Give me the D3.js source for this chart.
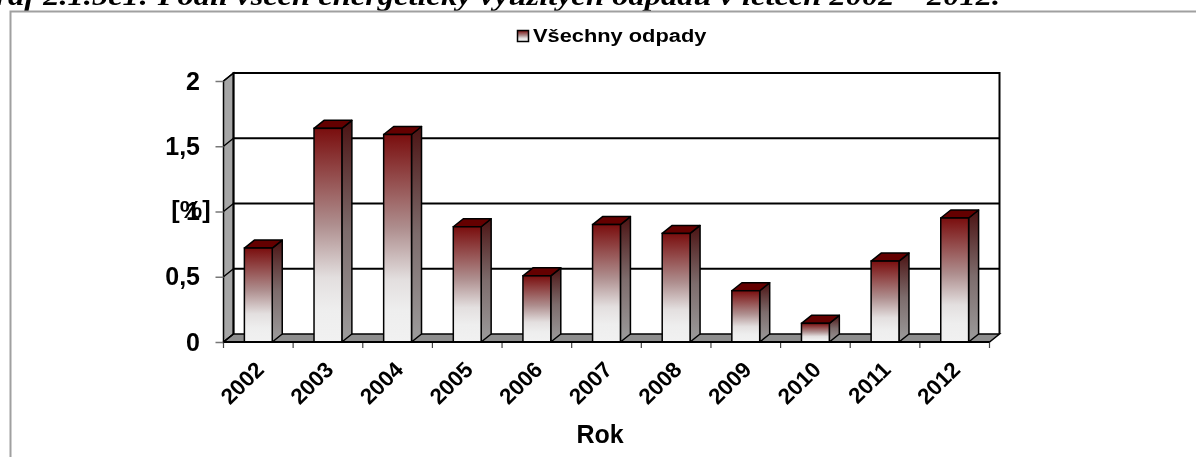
<!DOCTYPE html>
<html>
<head>
<meta charset="utf-8">
<script src="https://cdn.jsdelivr.net/npm/d3@7"></script>
<style>
html, body { margin: 0; padding: 0; background: #fff; overflow: hidden; }
text { font-family: "Liberation Sans", Arial, sans-serif; font-weight: bold; fill: #000; }
</style>
</head>
<body>
<div id="chart"></div>
<script>
var years = ['2002','2003','2004','2005','2006','2007','2008','2009','2010','2011','2012']
var values = [0.72, 1.637, 1.59, 0.883, 0.507, 0.90, 0.832, 0.393, 0.143, 0.62, 0.95]
var yTicks = [0, 0.5, 1, 1.5, 2]
var seriesName = 'Všechny odpady'
var captionText = 'Graf 2.1.5e1: Podíl všech energeticky využitých odpadů v letech 2002 – 2012.'
var xTitle = 'Rok'
var yTitle = '[%]'

var width = 1196, height = 457
var plotLeft = 223.5, plotRight = 989.5, plotTop = 81, plotBottom = 342
// 3d depth of the plot box
var depthX = 10, depthY = 8

// the reference is a resampled bitmap, a light blur gives the same soft edges
var svg = d3.select('#chart').append('svg')
  .attr('width', width)
  .attr('height', height)
  .style('display', 'block')
  .style('filter', 'blur(0.35px)')

var xScale = d3.scaleBand().domain(years).range([plotLeft, plotRight]).paddingInner(0.6).paddingOuter(0.3)
var yScale = d3.scaleLinear().domain([0, 2]).range([plotBottom, plotTop])
var edgeScale = d3.scaleLinear().domain([0, years.length]).range([plotLeft, plotRight])

var defs = svg.append('defs')

var frontGrad = defs.append('linearGradient').attr('id', 'frontGrad').attr('x1', 0).attr('y1', 0).attr('x2', 0).attr('y2', 1)
frontGrad.append('stop').attr('offset', '0%').attr('stop-color', '#7a0e0e')
frontGrad.append('stop').attr('offset', '45%').attr('stop-color', '#ae8e8e')
frontGrad.append('stop').attr('offset', '70%').attr('stop-color', '#e3dfdf')
frontGrad.append('stop').attr('offset', '85%').attr('stop-color', '#eeeeee')
frontGrad.append('stop').attr('offset', '100%').attr('stop-color', '#f1f1f1')

var sideGrad = defs.append('linearGradient').attr('id', 'sideGrad').attr('x1', 0).attr('y1', 0).attr('x2', 0).attr('y2', 1)
sideGrad.append('stop').attr('offset', '0%').attr('stop-color', '#4b1212')
sideGrad.append('stop').attr('offset', '50%').attr('stop-color', '#7d6c6c')
sideGrad.append('stop').attr('offset', '100%').attr('stop-color', '#9c9c9c')

// caption from the page, cut by the top of the picture
svg.append('text')
  .attr('transform', 'translate(1000,5) scale(1.16,1)')
  .attr('text-anchor', 'end')
  .style('font-family', '"Liberation Serif", serif')
  .style('font-style', 'italic')
  .style('font-size', '28px')
  .text(captionText)

// chart frame
svg.append('path')
  .attr('d', 'M10.5,457V11.5H1196')
  .attr('fill', 'none')
  .attr('stroke', '#a0a0a0')
  .attr('stroke-width', 2)

// walls
svg.append('path')
  .attr('d', d3.line()([[plotLeft, plotBottom], [plotLeft, plotTop], [plotLeft + depthX, plotTop - depthY], [plotLeft + depthX, plotBottom - depthY]]) + 'Z')
  .attr('fill', '#a6a6a6')
  .attr('stroke', '#000')
  .attr('stroke-width', 1.5)

svg.append('path')
  .attr('d', d3.line()([[plotLeft, plotBottom], [plotLeft + depthX, plotBottom - depthY], [plotRight + depthX, plotBottom - depthY], [plotRight, plotBottom]]) + 'Z')
  .attr('fill', '#8e8e8e')
  .attr('stroke', '#000')
  .attr('stroke-width', 1.5)

svg.append('path')
  .attr('d', d3.line()([[plotLeft + depthX, plotBottom - depthY], [plotLeft + depthX, plotTop - depthY], [plotRight + depthX, plotTop - depthY], [plotRight + depthX, plotBottom - depthY]]))
  .attr('fill', 'none')
  .attr('stroke', '#000')
  .attr('stroke-width', 2)

// grid lines on the back and across the side wall
svg.append('g').selectAll('.grid').data(yTicks.slice(1, -1)).enter().append('line')
  .attr('x1', plotLeft + depthX).attr('x2', plotRight + depthX)
  .attr('y1', function (d) { return yScale(d) - depthY })
  .attr('y2', function (d) { return yScale(d) - depthY })
  .attr('stroke', '#000').attr('stroke-width', 2)
svg.append('g').selectAll('.diag').data(yTicks).enter().append('line')
  .attr('x1', plotLeft).attr('x2', plotLeft + depthX)
  .attr('y1', function (d) { return yScale(d) })
  .attr('y2', function (d) { return yScale(d) - depthY })
  .attr('stroke', '#000').attr('stroke-width', 1.5)

// bars
var bar = svg.append('g').selectAll('.bar')
  .data(years.map(function (y, i) { return { year: y, value: values[i] } }))
  .enter().append('g').attr('class', 'bar')

bar.append('path')
  .attr('d', function (d) {
    var x1 = xScale(d.year) + xScale.bandwidth(), y = yScale(d.value)
    return d3.line()([[x1, y], [x1 + depthX, y - depthY], [x1 + depthX, plotBottom - depthY], [x1, plotBottom]]) + 'Z'
  })
  .attr('fill', 'url(#sideGrad)')
  .attr('stroke', '#000').attr('stroke-width', 1.5).attr('stroke-linejoin', 'round')

bar.append('path')
  .attr('d', function (d) {
    var x0 = xScale(d.year), x1 = x0 + xScale.bandwidth(), y = yScale(d.value)
    return d3.line()([[x0, y], [x0 + depthX, y - depthY], [x1 + depthX, y - depthY], [x1, y]]) + 'Z'
  })
  .attr('fill', '#640000')
  .attr('stroke', '#000').attr('stroke-width', 1.5).attr('stroke-linejoin', 'round')

bar.append('rect')
  .attr('x', function (d) { return xScale(d.year) })
  .attr('y', function (d) { return yScale(d.value) })
  .attr('width', xScale.bandwidth())
  .attr('height', function (d) { return plotBottom - yScale(d.value) })
  .attr('fill', 'url(#frontGrad)')
  .attr('stroke', '#000').attr('stroke-width', 1.5)

// y axis
var yAxis = d3.axisLeft(yScale)
  .tickValues(yTicks)
  .tickSize(8)
  .tickPadding(15.5)
  .tickFormat(function (d) { return String(d).replace('.', ',') })

var yChart = svg.append('g')
  .attr('id', 'y-axis')
  .attr('transform', 'translate(' + plotLeft + ',0)')
  .call(yAxis)
yChart.select('.domain').remove()
yChart.selectAll('line').attr('stroke', '#777').attr('stroke-width', 1.5)
yChart.selectAll('text').style('font-size', '25px').attr('fill', '#000')

// x axis: labels from band scale, ticks on the band edges
var xAxis = d3.axisBottom(xScale).tickSize(0).tickPadding(0)
var xChart = svg.append('g')
  .attr('id', 'x-axis')
  .attr('transform', 'translate(0,' + plotBottom + ')')
  .call(xAxis)
xChart.select('.domain').remove()
xChart.selectAll('text')
  .style('font-size', '22px')
  .attr('fill', '#000')
  .attr('text-anchor', 'end')
  .attr('dy', 0)
  .attr('y', 0)
  .attr('transform', 'translate(7,29) scale(1.02,1) rotate(-45)')
xChart.selectAll('.edge').data(d3.range(years.length + 1)).enter().append('line')
  .attr('class', 'edge')
  .attr('x1', function (d) { return edgeScale(d) })
  .attr('x2', function (d) { return edgeScale(d) })
  .attr('y1', 0).attr('y2', 6)
  .attr('stroke', '#444').attr('stroke-width', 1.2)
svg.append('line')
  .attr('x1', plotLeft).attr('x2', plotRight).attr('y1', plotBottom).attr('y2', plotBottom)
  .attr('stroke', '#000').attr('stroke-width', 2)

// axis titles
svg.append('text')
  .attr('x', 600)
  .attr('y', 443)
  .attr('text-anchor', 'middle')
  .style('font-size', '25px')
  .text(xTitle)

svg.append('text')
  .attr('transform', 'translate(191,218) scale(1.1,1)')
  .attr('text-anchor', 'middle')
  .style('font-size', '23px')
  .text(yTitle)

// legend
svg.append('rect')
  .attr('x', 517.5).attr('y', 30.5).attr('width', 11).attr('height', 11)
  .attr('fill', 'url(#frontGrad)')
  .attr('stroke', '#000').attr('stroke-width', 1.5)
svg.append('text')
  .attr('transform', 'translate(533,42) scale(1.18,1)')
  .style('font-size', '18.5px')
  .text(seriesName)
</script>
</body>
</html>
